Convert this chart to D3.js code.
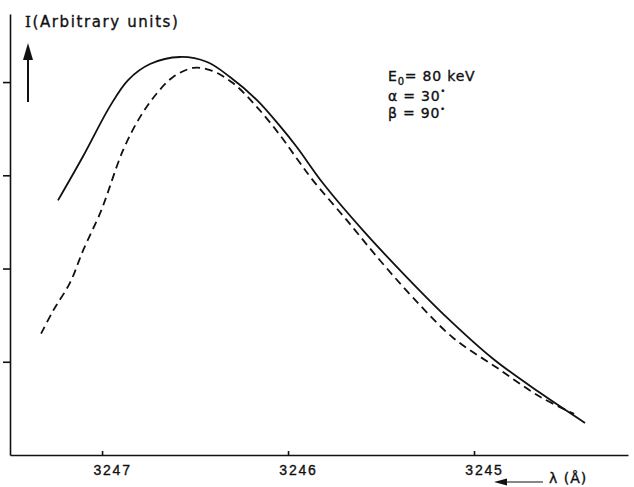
<!DOCTYPE html>
<html>
<head>
<meta charset="utf-8">
<script src="https://cdn.jsdelivr.net/npm/d3@7"></script>
<style>
  body { margin: 0; background: #fff; }
  svg { display: block; font-family: "DejaVu Sans", sans-serif; }
  .axis path, .axis line { stroke: #111; stroke-width: 1.6; }
  .curve { fill: none; stroke: #111; stroke-width: 1.8; }
  .lbl { fill: #111; stroke: #111; stroke-width: 0.35; }
</style>
</head>
<body>
<svg id="chart" width="634" height="487"></svg>
<script>
// wavelength (Angstrom) and intensity (arbitrary units)
var solidLambda = [3247.237, 3247.102, 3246.957, 3246.860, 3246.742, 3246.581, 3246.435, 3246.312, 3246.167,
                   3246.043, 3245.952, 3245.812, 3245.597, 3245.360, 3245.145, 3244.898, 3244.645, 3244.403];
var solidI      = [2.731, 3.204, 3.742, 4.022, 4.194, 4.269, 4.215, 4.054, 3.806,
                   3.527, 3.301, 2.914, 2.409, 1.903, 1.473, 1.032, 0.667, 0.344];

var dashedLambda = [3247.328, 3247.263, 3247.172, 3247.102, 3247.011, 3246.984, 3246.887, 3246.796, 3246.704,
                    3246.618, 3246.511, 3246.419, 3246.296, 3246.167, 3246.043, 3245.946, 3245.866, 3245.683,
                    3245.505, 3245.328, 3245.113, 3244.876, 3244.645, 3244.462];
var dashedI      = [1.301, 1.548, 1.849, 2.194, 2.591, 2.731, 3.269, 3.624, 3.882,
                    4.054, 4.151, 4.129, 3.989, 3.731, 3.430, 3.161, 2.946, 2.516,
                    2.086, 1.688, 1.258, 0.935, 0.624, 0.441];

var xTicks = [3247, 3246, 3245];
var yTicks = [1, 2, 3, 4];

var svg = d3.select('#chart');

var x = d3.scaleLinear().domain([3247.495, 3244.172]).range([10, 628]),
    y = d3.scaleLinear().domain([0, 4.73]).range([455, 14]);

// y axis: ticks only, no labels
svg.append('g')
  .attr('class', 'axis')
  .attr('transform', 'translate(10,0)')
  .call(d3.axisLeft(y).tickValues(yTicks).tickSizeInner(7).tickSizeOuter(0).tickFormat(''));

// x axis: short ticks pointing up, labels below
var xg = svg.append('g')
  .attr('class', 'axis')
  .attr('transform', 'translate(0,455)')
  .call(d3.axisBottom(x).tickValues(xTicks).tickSizeInner(-4).tickSizeOuter(0).tickPadding(10).tickFormat(d3.format('d')));

xg.selectAll('text')
  .attr('class', 'lbl')
  .attr('x', 10)
  .style('font-size', '14px')
  .style('letter-spacing', '1.8px');

var line = d3.line()
  .x(function(d) { return x(d[0]); })
  .y(function(d) { return y(d[1]); })
  .curve(d3.curveCatmullRom);

var solid = solidLambda.map(function(l, i) { return [l, solidI[i]]; }),
    dashed = dashedLambda.map(function(l, i) { return [l, dashedI[i]]; });

svg.append('path').attr('class', 'curve').attr('d', line(solid));
svg.append('path').attr('class', 'curve')
  .attr('stroke-dasharray', '8,5')
  .attr('d', line(dashed));

// y label and arrow
var ylab = svg.append('text')
  .attr('class', 'lbl')
  .attr('x', 25).attr('y', 27)
  .style('font-size', '15px')
  .style('letter-spacing', '1.6px');
ylab.append('tspan').style('font-family', '"DejaVu Serif", serif').text('I');
ylab.append('tspan').text('(Arbitrary units)');

svg.append('line')
  .attr('x1', 28).attr('x2', 28).attr('y1', 102).attr('y2', 56)
  .attr('stroke', '#111').attr('stroke-width', 2);
svg.append('path')
  .attr('d', 'M28,43 L23,60 L33,60 Z')
  .attr('fill', '#111');

// parameters
var params = svg.append('g')
  .style('font-size', '14px')
  .style('letter-spacing', '0.8px');

var e0 = params.append('text').attr('class', 'lbl').attr('x', 388).attr('y', 81);
e0.append('tspan').text('E');
e0.append('tspan').attr('dy', 4).style('font-size', '10px').text('0');
e0.append('tspan').attr('dy', -4).text('= 80 keV');

var al = params.append('text').attr('class', 'lbl').attr('x', 388).attr('y', 101);
al.append('tspan').text('α = 30');
al.append('tspan').attr('dy', -7).style('font-size', '8px').text('•');

var be = params.append('text').attr('class', 'lbl').attr('x', 388).attr('y', 118);
be.append('tspan').text('β = 90');
be.append('tspan').attr('dy', -6).style('font-size', '8px').text('•');

// lambda label with left arrow
svg.append('line')
  .attr('x1', 504).attr('x2', 543).attr('y1', 482).attr('y2', 482)
  .attr('stroke', '#111').attr('stroke-width', 1.2);
svg.append('path')
  .attr('d', 'M494,482 L507,478.5 L507,485.5 Z')
  .attr('fill', '#111');
svg.append('text')
  .attr('class', 'lbl')
  .attr('x', 549).attr('y', 483)
  .style('font-size', '14px')
  .style('letter-spacing', '1px')
  .text('λ (Å)');
</script>
</body>
</html>
